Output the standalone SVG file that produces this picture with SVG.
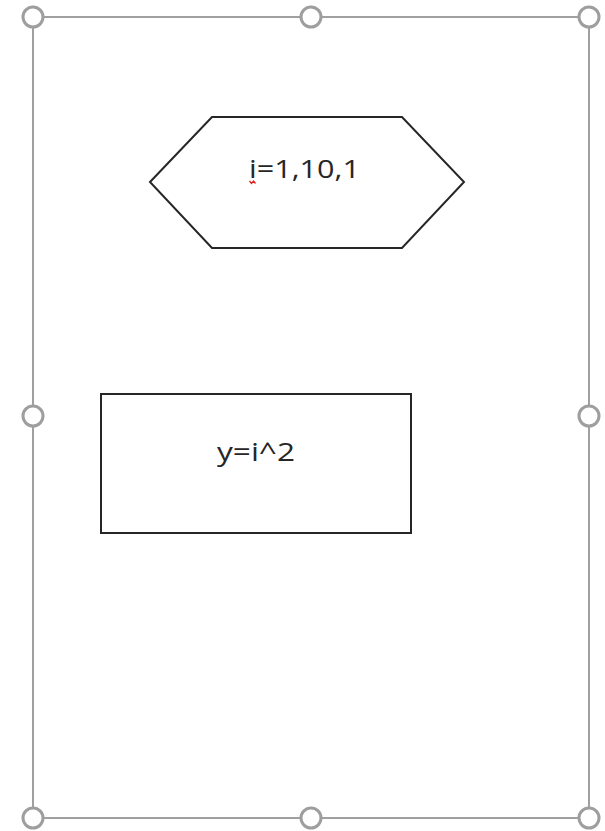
<svg xmlns="http://www.w3.org/2000/svg" width="605" height="831" viewBox="0 0 605 831">
<style>
.frame{fill:none;stroke:#a0a0a0;stroke-width:2}
.handle{fill:#fff;stroke:#9e9e9e;stroke-width:3}
.shape{fill:#fff;stroke:#262626;stroke-width:2}
.lbl{font-family:"Open Sans","Liberation Sans",sans-serif;font-size:25px;fill:#262626}
</style>
<rect width="605" height="831" fill="#fff"/>
<g id="selection">
<rect class="frame" x="33" y="17" width="556" height="801"/>
<circle class="handle" cx="33" cy="17" r="10"/>
<circle class="handle" cx="311" cy="17" r="10"/>
<circle class="handle" cx="589" cy="17" r="10"/>
<circle class="handle" cx="33" cy="416" r="10"/>
<circle class="handle" cx="589" cy="416" r="10"/>
<circle class="handle" cx="33" cy="818" r="10"/>
<circle class="handle" cx="311" cy="818" r="10"/>
<circle class="handle" cx="589" cy="818" r="10"/>
</g>
<g id="loop">
<polygon class="shape" points="150,182 212,117 402,117 464,182 402,248 212,248"/>
<text class="lbl" x="249" y="178" textLength="111" lengthAdjust="spacingAndGlyphs">i=1,10,1</text>
<path d="M249.5,181 l2,2.5 l2,-2.5 l2,2.5" fill="none" stroke="#e02020" stroke-width="1.3"/>
</g>
<g id="process">
<rect class="shape" x="101" y="394" width="310" height="139"/>
<text class="lbl" x="217" y="461" textLength="78" lengthAdjust="spacingAndGlyphs">y=i^2</text>
</g>
<g id="connectors"/>
</svg>
